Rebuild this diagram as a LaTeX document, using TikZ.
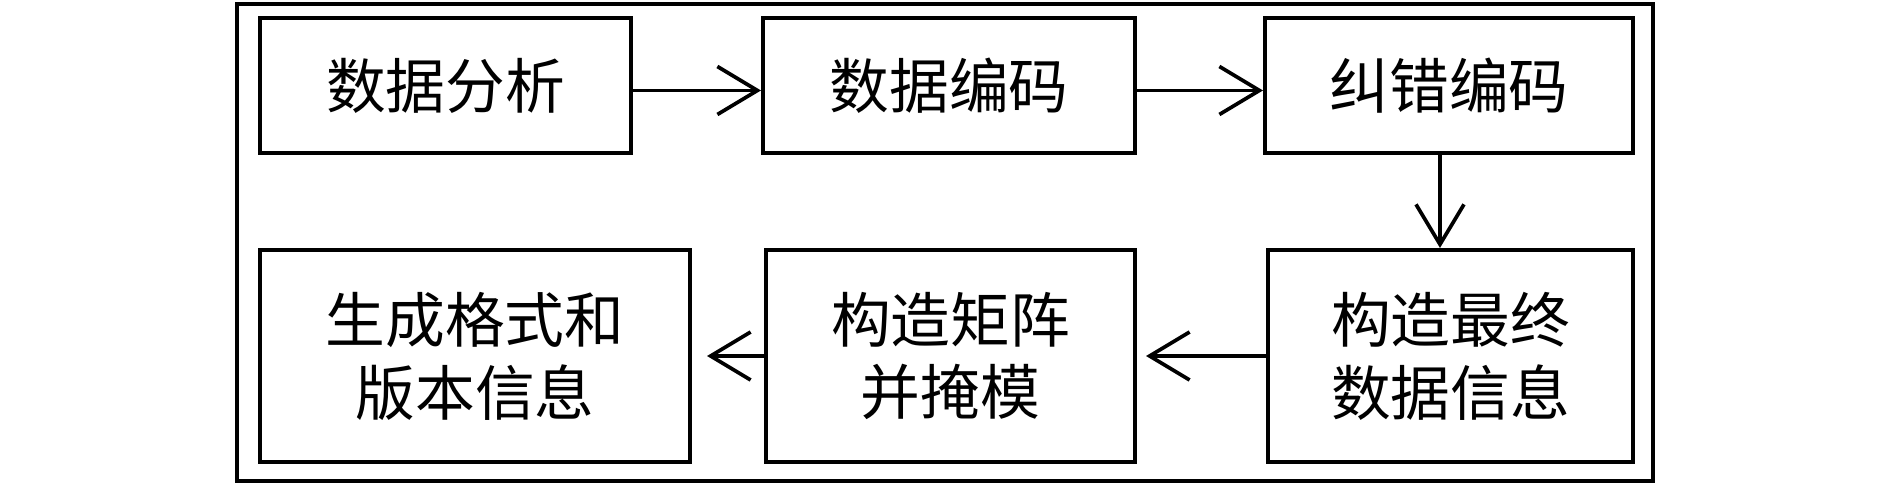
\documentclass[tikz,border=0pt]{standalone}
\usepackage{fontspec}
\setmainfont{Noto Sans CJK SC}
\usepackage{tikz}
\usetikzlibrary{shapes, arrows.meta}

\begin{document}
\begin{tikzpicture}[
		blockbox/.style={rectangle, draw, line width=2.3pt, inner sep=0pt, align=center,
			font=\fontsize{34}{41.5}\selectfont},
		flow/.style={-{Straight Barb[length=0.8cm, width=0.96cm, line width=2.1pt]}, line width=2.1pt}
	]
		\useasboundingbox (0,0) rectangle (37.8,9.68);
		\draw[line width=1.9pt] (4.74,0.06) rectangle (33.06,9.60);
		\node at (8.91,7.97) [blockbox, minimum width=7.42cm, minimum height=2.7cm] (fx) {数据分析};
		\node at (18.98,7.97) [blockbox, minimum width=7.44cm, minimum height=2.7cm] (bm) {数据编码};
		\node at (28.98,7.97) [blockbox, minimum width=7.36cm, minimum height=2.7cm] (jc) {纠错编码};
		\node at (29.01,2.56) [blockbox, minimum width=7.3cm, minimum height=4.24cm] (zz) {构造最终\\数据信息};
		\node at (19.01,2.56) [blockbox, minimum width=7.38cm, minimum height=4.24cm] (jz) {构造矩阵\\并掩模};
		\node at (9.5,2.56) [blockbox, minimum width=8.6cm, minimum height=4.24cm] (bb) {生成格式和\\版本信息};
		\draw[flow] ([yshift=-0.1cm]fx.east) -- ([yshift=-0.1cm]bm.west);
		\draw[flow] ([yshift=-0.1cm]bm.east) -- ([yshift=-0.1cm]jc.west);
		\draw[flow] ([xshift=-0.18cm]jc.south) -- ([xshift=-0.21cm]zz.north);
		\draw[flow, shorten >=0.18cm] (zz.west) -- (jz.east);
		\draw[flow, shorten >=0.3cm] (jz.west) -- (bb.east);
		\end{tikzpicture}
\end{document}
